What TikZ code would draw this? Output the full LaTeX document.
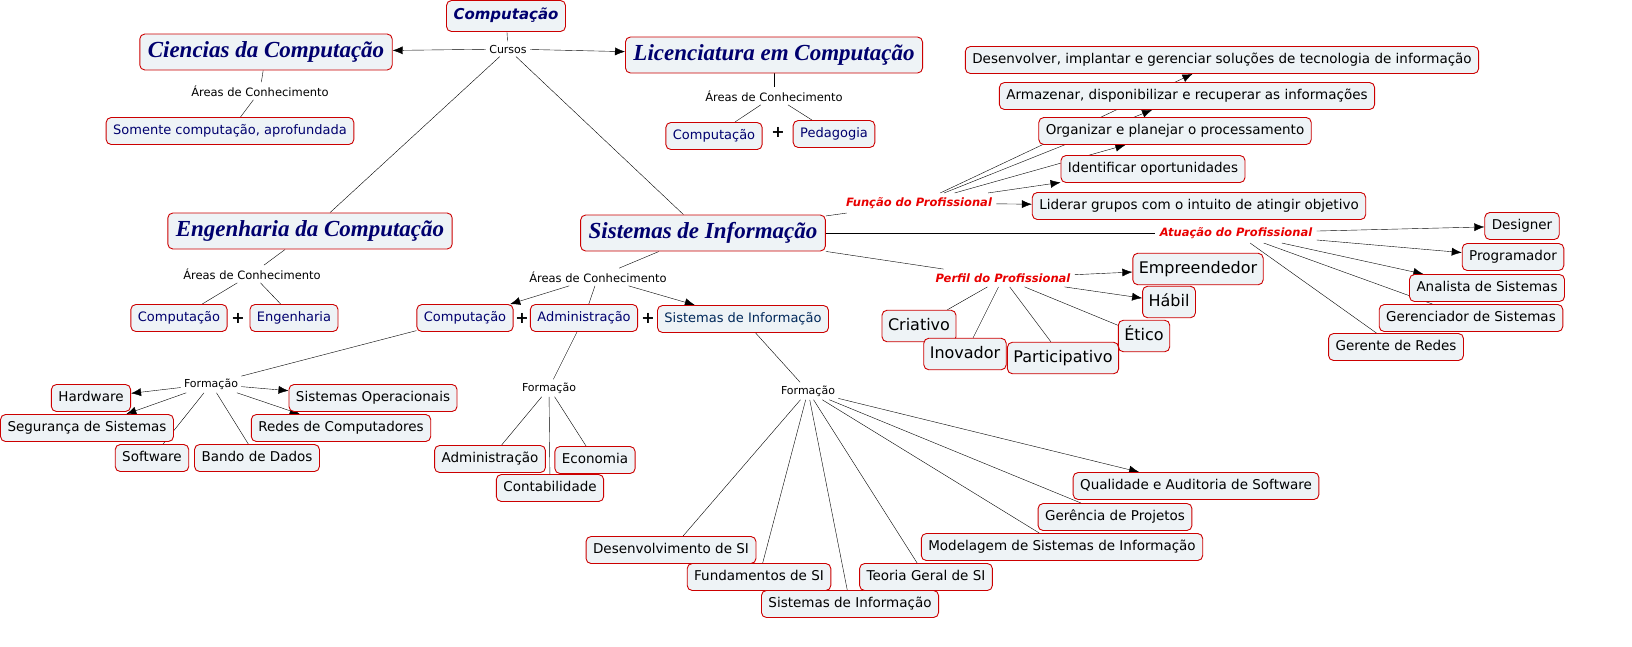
\documentclass[tikz,border=0pt]{standalone}
\usepackage{fontspec}
\setmainfont{DejaVu Sans}
\newfontfamily\timesbi{Liberation Serif}
\usetikzlibrary{arrows.meta,backgrounds}
\definecolor{boxred}{RGB}{204,0,0}
\definecolor{boxfill}{RGB}{238,243,246}
\definecolor{navy}{RGB}{0,0,110}
\definecolor{sitext}{RGB}{0,40,90}
\definecolor{labred}{RGB}{232,0,0}

\begin{document}
\begin{tikzpicture}[x=1pt, y=-1pt, line width=0.9pt, >={Latex[length=10pt,width=8pt]},
  box/.style={draw=boxred, fill=boxfill, rounded corners=5pt, inner xsep=7pt, inner ysep=7pt, text height=10pt, text depth=3pt, font=\fontsize{13.5}{15}\selectfont},
  area/.style={box, text=navy, font=\fontsize{13}{15}\selectfont},
  big/.style={box, font=\fontsize{16}{18}\selectfont, text height=12pt, text depth=3.5pt, inner xsep=6pt, inner ysep=8pt},
  curso/.style={box, text=navy, font=\timesbi\bfseries\itshape\fontsize{23}{26}\selectfont, text height=15.5pt, text depth=5.5pt, inner xsep=8pt, inner ysep=7.5pt},
  phrase/.style={inner sep=3pt, font=\fontsize{11.5}{14}\selectfont},
  small/.style={inner sep=3pt, font=\fontsize{11}{13}\selectfont},
  redlab/.style={inner sep=4pt, text=labred, font=\bfseries\itshape\fontsize{11.5}{13}\selectfont},
  plus/.style={inner sep=1pt, font=\bfseries\fontsize{16}{18}\selectfont}]
\useasboundingbox (0,0) rectangle (1632,646);

\node[box, text=navy, font=\bfseries\itshape\fontsize{15}{18}\selectfont, text height=11pt, text depth=4pt, inner ysep=8pt] (comp) at (506,16) {Computação};
\node[small] (cursos) at (508,49) {Cursos};
\node[curso] (cienc) at (266,52) {Ciencias da Computação};
\node[curso] (licen) at (774,55) {Licenciatura em Computação};
\node[phrase] (areasC) at (260,91) {Áreas de Conhecimento};
\node[area] (somente) at (230,131) {Somente computação, aprofundada};
\node[phrase] (areasL) at (774,96) {Áreas de Conhecimento};
\node[area] (compL) at (714,136) {Computação};
\node[plus] (plusL) at (778,132) {+};
\node[area] (pedag) at (834,134) {Pedagogia};

\node[curso] (engen) at (310,231) {Engenharia da Computação};
\node[phrase] (areasE) at (252,274) {Áreas de Conhecimento};
\node[area] (compE) at (179,318) {Computação};
\node[plus] (plusE) at (238,318) {+};
\node[area] (engE) at (294,318) {Engenharia};
\node[small] (formE) at (211,384) {Formação};
\node[box] (hardw) at (91,398) {Hardware};
\node[box] (segur) at (87,428) {Segurança de Sistemas};
\node[box] (softw) at (152,458) {Software};
\node[box] (banco) at (257,458) {Bando de Dados};
\node[box] (sisop) at (373,398) {Sistemas Operacionais};
\node[box] (redes) at (341,428) {Redes de Computadores};

\node[curso] (sisinf) at (703,233) {Sistemas de Informação};
\node[phrase] (areasS) at (598,277) {Áreas de Conhecimento};
\node[area] (compS) at (465,318) {Computação};
\node[plus] (plusS1) at (522,318) {+};
\node[area] (admS) at (584,318) {Administração};
\node[plus] (plusS2) at (648,318) {+};
\node[area, text=sitext] (siS) at (743,319) {Sistemas de Informação};
\node[small] (formA) at (549,388) {Formação};
\node[box] (admF) at (490,459) {Administração};
\node[box] (contab) at (550,488) {Contabilidade};
\node[box] (econ) at (595,460) {Economia};
\node[small] (formS) at (808,391) {Formação};
\node[box] (desenv) at (671,550) {Desenvolvimento de SI};
\node[box] (fund) at (759,577) {Fundamentos de SI};
\node[box] (sisF) at (850,604) {Sistemas de Informação};
\node[box] (teoria) at (926,577) {Teoria Geral de SI};
\node[box] (model) at (1062,547) {Modelagem de Sistemas de Informação};
\node[box] (gerenc) at (1115,517) {Gerência de Projetos};
\node[box] (qualid) at (1196,486) {Qualidade e Auditoria de Software};

\node[redlab] (funcao) at (919,203) {Função do Profissional};
\node[box] (desimp) at (1222,60) {Desenvolver, implantar e gerenciar soluções de tecnologia de informação};
\node[box] (armaz) at (1187,96) {Armazenar, disponibilizar e recuperar as informações};
\node[box] (organ) at (1175,131) {Organizar e planejar o processamento};
\node[box] (ident) at (1153,169) {Identificar oportunidades};
\node[box] (lider) at (1199,206) {Liderar grupos com o intuito de atingir objetivo};

\node[redlab] (atuac) at (1236,233) {Atuação do Profissional};
\node[box] (design) at (1522,226) {Designer};
\node[box] (progr) at (1513,257) {Programador};
\node[box] (analis) at (1487,288) {Analista de Sistemas};
\node[box] (gersis) at (1471,318) {Gerenciador de Sistemas};
\node[box] (gerred) at (1396,347) {Gerente de Redes};

\node[redlab] (perfil) at (1003,278) {Perfil do Profissional};
\node[big] (empre) at (1198,269) {Empreendedor};
\node[big] (habil) at (1169,302) {Hábil};
\node[big] (etico) at (1144,336) {Ético};
\node[big] (criat) at (919,326) {Criativo};
\node[big] (inov) at (965,354) {Inovador};
\node[big] (partic) at (1063,358) {Participativo};

\begin{scope}[on background layer]
\draw[black] (comp) -- (cursos);
\draw[black] [->] (cursos) -- (cienc);
\draw[black] [->] (cursos) -- (licen);
\draw[black] (cursos) -- (engen);
\draw[black] (cursos) -- (sisinf);
\draw[black] (cienc) -- (areasC) -- (somente);
\draw[black] (licen) -- (areasL);
\draw[black] (compL) -- (areasL) -- (pedag);
\draw[black] (engen) -- (areasE);
\draw[black] (compE) -- (areasE) -- (engE);
\draw[black] (sisinf) -- (areasS) -- (admS);
\draw[black] [->] (areasS) -- (compS);
\draw[black] [->] (areasS) -- (siS);
\draw[black] (compS) -- (formE);
\draw[black] [->] (formE) -- (hardw);
\draw[black] [->] (formE) -- (segur);
\draw[black] [->] (formE) -- (sisop);
\draw[black] [->] (formE) -- (redes);
\draw[black] (softw) -- (formE) -- (banco);
\draw[black] (admS) -- (formA);
\draw[black] (admF) -- (formA) -- (econ);
\draw[black] (formA) -- (contab);
\draw[black] (siS) -- (formS);
\draw[black] (formS) -- (desenv);
\draw[black] (formS) -- (fund);
\draw[black] (formS) -- (sisF);
\draw[black] (formS) -- (teoria);
\draw[black] (formS) -- (model);
\draw[black] (formS) -- (gerenc);
\draw[black] [->] (formS) -- (qualid);
\draw[black] (sisinf) -- (funcao);
\draw[black] [->] (funcao) -- (desimp);
\draw[black] [->] (funcao) -- (armaz);
\draw[black] [->] (funcao) -- (organ);
\draw[black] [->] (funcao) -- (ident);
\draw[black] [->] (funcao) -- (lider);
\draw[black] (sisinf) -- (atuac);
\draw[black] [->] (atuac) -- (design);
\draw[black] [->] (atuac) -- (progr);
\draw[black] [->] (atuac) -- (analis);
\draw[black] (atuac) -- (gersis);
\draw[black] (atuac) -- (gerred);
\draw[black] (sisinf) -- (perfil);
\draw[black] [->] (perfil) -- (empre);
\draw[black] [->] (perfil) -- (habil);
\draw[black] (perfil) -- (etico);
\draw[black] (perfil) -- (criat);
\draw[black] (perfil) -- (inov);
\draw[black] (perfil) -- (partic);
\end{scope}
\end{tikzpicture}
\end{document}
